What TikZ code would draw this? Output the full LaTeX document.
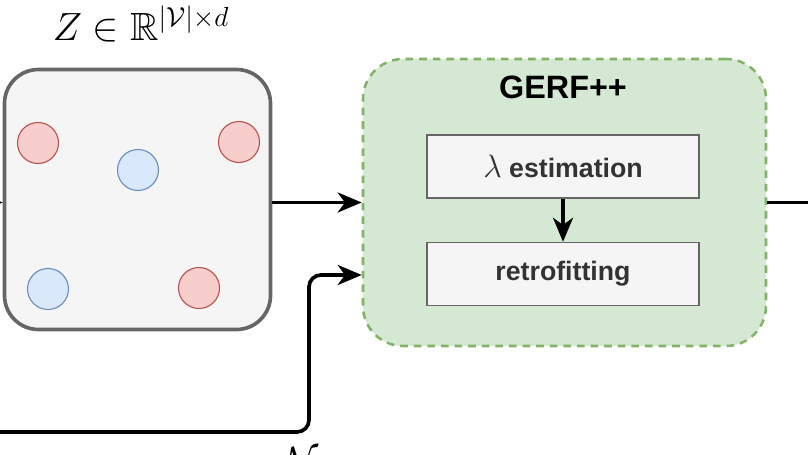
\RequirePackage{fix-cm}
\documentclass[tikz,border=0pt]{standalone}
\usepackage{amssymb}
\usepackage{fontspec}
\setsansfont{Liberation Sans}
\usetikzlibrary{arrows.meta,positioning,calc}
\definecolor{cRedFill}{HTML}{F8CECC}
\definecolor{cRedLine}{HTML}{B85450}
\definecolor{cBlueFill}{HTML}{DAE8FC}
\definecolor{cBlueLine}{HTML}{6C8EBF}
\definecolor{cGreenFill}{HTML}{D5E8D4}
\definecolor{cGreenLine}{HTML}{82B366}
\definecolor{cGreyFill}{HTML}{F5F5F5}
\definecolor{cGreyLine}{HTML}{666666}
\definecolor{cText}{HTML}{333333}

\begin{document}
\begin{tikzpicture}[
  emb/.style={draw=cGreyLine,fill=cGreyFill,rounded corners=0.85cm,line width=2.6pt,
              minimum width=6.65cm,minimum height=6.5cm},
  vtx/.style={circle,minimum size=1.025cm,inner sep=0pt,line width=0.8pt},
  redpt/.style={vtx,draw=cRedLine,fill=cRedFill},
  bluept/.style={vtx,draw=cBlueLine,fill=cBlueFill},
  method/.style={draw=cGreenLine,fill=cGreenFill,rounded corners=1cm,line width=1.8pt,
                 dash pattern=on 0.19cm off 0.15cm,minimum width=10.075cm,minimum height=7.175cm},
  stagebox/.style={draw=cGreyLine,fill=cGreyFill,line width=1pt,minimum width=6.8cm,
                   minimum height=1.575cm,text=cText,font=\fontsize{19}{22}\selectfont\sffamily\bfseries},
  flow/.style={-{Stealth[length=6mm,width=5mm,inset=1.8mm]},line width=2.6pt}
]
\clip (0,0) rectangle (20.2,11.375);

% embedding matrix
\node[emb] (grey) at (3.4375,6.3875) {};
\node[font=\fontsize{28}{32}\selectfont,inner sep=0pt] (zlab) at (3.525,10.78)
     {$Z \in \mathbb{R}^{|\mathcal{V}|\times d}$};
\node[redpt] (r1) at (0.95,7.8) {};
\node[bluept] (b1) at (3.45,7.125) {};
\node[redpt] (r2) at (5.975,7.825) {};
\node[bluept] (b2) at (1.2,4.15) {};
\node[redpt] (r3) at (4.975,4.175) {};

% GERF++ block
\node[method] (gerf) at (14.1125,6.3125) {};
\node[font=\fontsize{23}{27}\selectfont\sffamily\bfseries] (title) at (14.075,9.2) {GERF++};
\node[stagebox] (est) at (14.075,7.2125) {{\fontsize{23}{24}\selectfont$\lambda$} estimation};
\node[stagebox] (retro) at (14.075,4.525) {retrofitting};
\draw[flow] (est) -- (retro);

% connections
\coordinate (inL) at (-1,6.3125);
\coordinate (src) at (-1,0.575);
\coordinate (bend) at (7.725,4.5);
\draw[flow] (inL) -- (grey.west |- inL);
\draw[flow] (grey.east |- gerf.west) -- (gerf.west);
\draw[line width=2.6pt] (gerf.east) -- ++(1.5,0);
\draw[flow,rounded corners=0.3cm] (src) -| (bend) -- (gerf.west |- bend);
\node[font=\fontsize{28}{32}\selectfont,inner sep=0pt,anchor=base west] (nlab) at (7.0,-0.5)
     {$\mathcal{N}$};
\end{tikzpicture}
\end{document}
